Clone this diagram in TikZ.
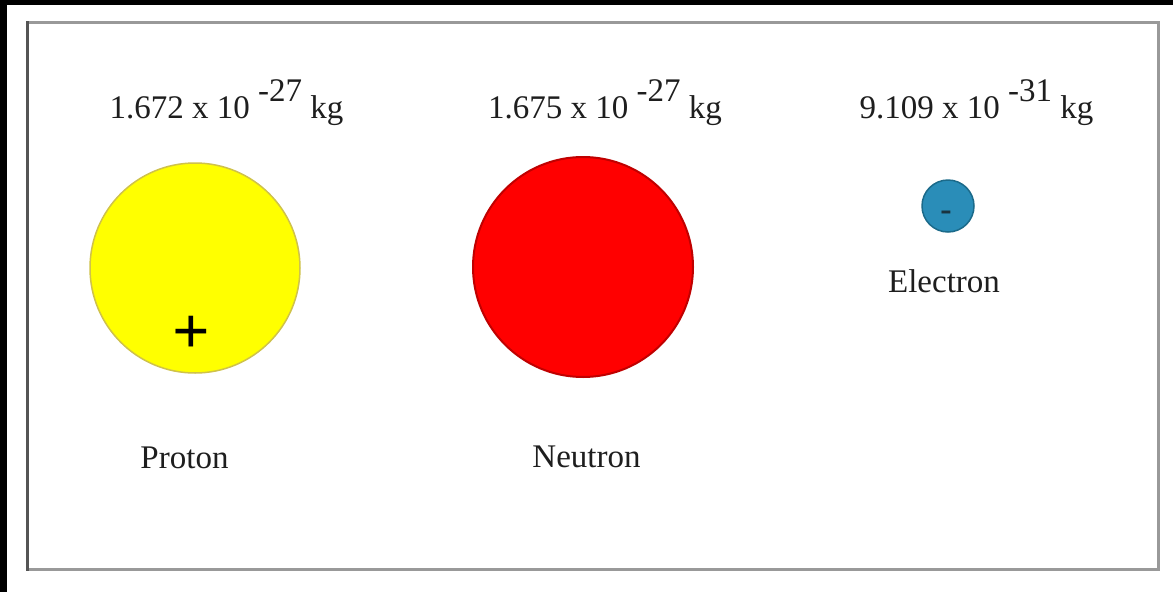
\documentclass[tikz,border=0pt]{standalone}
\usepackage{fontspec}
\setmainfont{Liberation Serif}
\definecolor{txt}{HTML}{1E1E1E}
\definecolor{frameL}{HTML}{555555}
\definecolor{frameG}{HTML}{999999}
\definecolor{protfill}{HTML}{FFFF00}
\definecolor{protdraw}{HTML}{CFC24A}
\definecolor{neutfill}{HTML}{FF0000}
\definecolor{neutdraw}{HTML}{C00000}
\definecolor{elecfill}{HTML}{2A8DB8}
\definecolor{elecdraw}{HTML}{1B6A8A}
\definecolor{elecsign}{HTML}{1A3440}
\tikzset{
  lbl/.style={inner sep=0pt, anchor=base, text=txt, font=\fontsize{33}{36}\selectfont},
  particle/.style={circle, inner sep=0pt},
}
\newcommand{\massexp}[1]{\raisebox{17pt}{#1}}
\begin{document}
\begin{tikzpicture}[x=1pt,y=-1pt]
  \useasboundingbox (0,0) rectangle (1173,592);
  \fill[white] (0,0) rectangle (1173,592);
  % black strips
  \fill[black] (0,0) rectangle (1173,5);
  \fill[black] (0,0) rectangle (7,592);
  % frame
  \draw[frameG, line width=3pt] (26,22.5) -- (1158,22.5) -- (1158,569) -- (26,569);
  \draw[frameL, line width=3pt] (27.5,21) -- (27.5,570.5);
  % particles
  \node[particle, fill=protfill, draw=protdraw, line width=1.5pt, minimum size=210pt] (proton) at (195,268) {};
  \node[particle, fill=neutfill, draw=neutdraw, line width=2pt, minimum size=220pt] (neutron) at (583,267) {};
  \node[particle, fill=elecfill, draw=elecdraw, line width=1.5pt, minimum size=52pt] (electron) at (948,206) {};
  % signs
  \node[inner sep=0pt, text=black, font=\fontsize{66}{70}\bfseries] (plus) at (191,335) {+};
  \node[inner sep=0pt, text=elecsign, font=\fontsize{34}{38}\bfseries] (minus) at (946,216) {-};
  % masses
  \node[lbl] (mp) at (226.5,118) {1.672 x 10 \massexp{-27} kg};
  \node[lbl] (mn) at (605,118) {1.675 x 10 \massexp{-27} kg};
  \node[lbl] (me) at (976.5,118) {9.109 x 10 \massexp{-31} kg};
  % names
  \node[lbl] (np) at (184.5,468) {Proton};
  \node[lbl] (nn) at (586.5,467) {Neutron};
  \node[lbl] (ne) at (944,292) {Electron};
\end{tikzpicture}
\end{document}
